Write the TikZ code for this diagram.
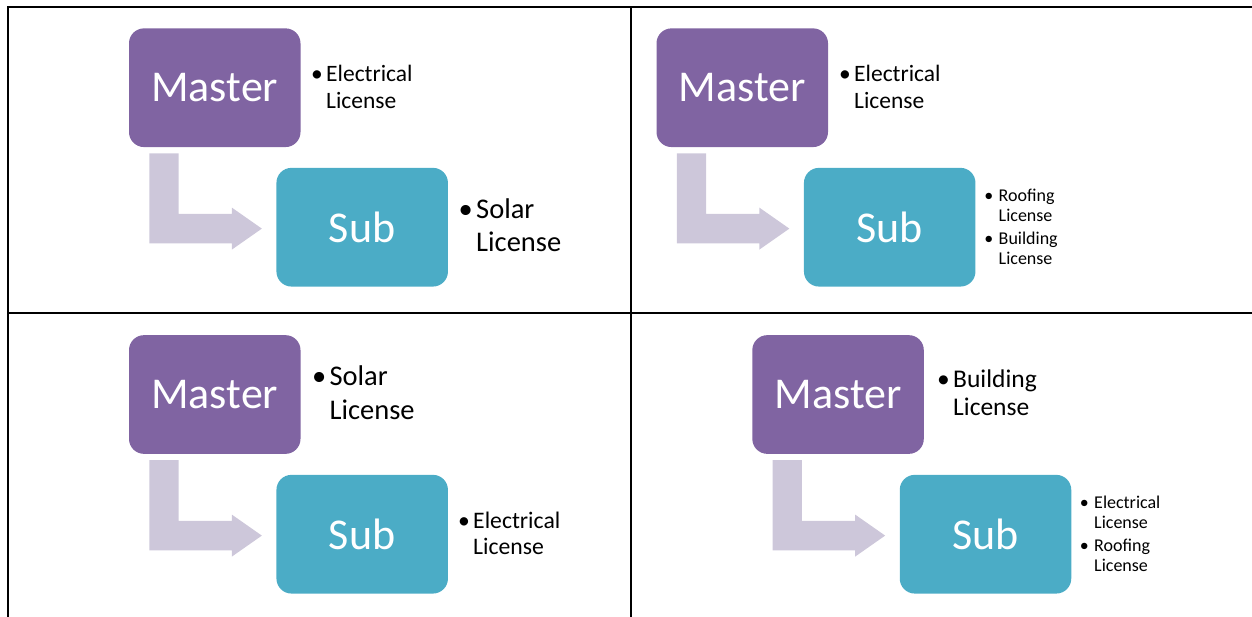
\documentclass[tikz,border=0pt]{standalone}
\usepackage{fontspec}
\setmainfont{Carlito}
\usetikzlibrary{calc}
\definecolor{mpurple}{HTML}{8064A2}
\definecolor{steal}{HTML}{4BACC6}
\definecolor{arrowc}{HTML}{CDC7DA}
\newcommand\fsz[1]{\fontsize{#1}{#1}\selectfont}
\begin{document}
\begin{tikzpicture}[x=1pt,y=-1pt,
  tbl/.style={line width=2pt,black},
  boxbase/.style={rectangle,rounded corners=15pt,minimum width=171.5pt,minimum height=118.7pt,inner sep=0pt,text=white,font=\fsz{44}},
  master/.style={boxbase,fill=mpurple},
  subbox/.style={boxbase,fill=steal},
  lt/.style={anchor=base west,inner sep=0pt,text=black},
  bul/.style={anchor=base east,inner sep=0pt,text=black},
  bentarrow/.style={fill=arrowc}]
\useasboundingbox (0,0) rectangle (1252,616);
% table grid
\coordinate (tl) at (8,7);
\coordinate (tr) at (1253,7);
\coordinate (bl) at (8,617);
\coordinate (mt) at (631,7);
\coordinate (mb) at (631,617);
\coordinate (ml) at (8,313);
\coordinate (mr) at (1253,313);
\draw[tbl] (7,7) -- (tr);
\draw[tbl] (tl) -- (bl);
\draw[tbl] (mt) -- (mb);
\draw[tbl] (ml) -- (mr);
% boxes
\node[master] (m1) at (214.75,87.7) {Master};
\node[subbox] (s1) at (362.2,227.2) {Sub};
\node[master] (m2) at (742.25,87.7) {Master};
\node[subbox] (s2) at (889.7,227.2) {Sub};
\node[master] (m3) at (214.75,394.5) {Master};
\node[subbox] (s3) at (362.2,534.2) {Sub};
\node[master] (m4) at (838.05,394.5) {Master};
\node[subbox] (s4) at (985.5,534.2) {Sub};
% bent arrows
\foreach \i in {1,2,3,4}{
  \fill[bentarrow] let \p1=(m\i.south west), \p2=(s\i.west) in
    (\x1+20.5pt,\y1-6pt) -- (\x1+49.8pt,\y1-6pt) -- (\x1+49.8pt,\y2+13.25pt)
    -- (\x2-44.4pt,\y2+13.25pt) -- (\x2-44.4pt,\y2+19.6pt) -- (\x2-14.4pt,\y2-1.4pt)
    -- (\x2-44.4pt,\y2-22.4pt) -- (\x2-44.4pt,\y2-16.05pt) -- (\x1+20.5pt,\y2-16.05pt) -- cycle;
}
% panel 1 texts
\node[lt,font=\fsz{23.5}] (t1a) at (326,81.7) {Electrical};
\node[lt,font=\fsz{23.5}] (t1b) at (326,108.3) {License};
\node[bul,font=\fsz{23.5}] (b1a) at (323,81.7) {•};
\node[lt,font=\fsz{28.5}] (u1a) at (476,218) {Solar};
\node[lt,font=\fsz{28.5}] (u1b) at (476,251.7) {License};
\node[bul,font=\fsz{28.5}] (c1a) at (473,218) {•};
% panel 2 texts
\node[lt,font=\fsz{23.5}] (t2a) at (854,81.7) {Electrical};
\node[lt,font=\fsz{23.5}] (t2b) at (854,108.3) {License};
\node[bul,font=\fsz{23.5}] (b2a) at (851,81.7) {•};
\node[lt,font=\fsz{18}] (u2a) at (998.5,201.2) {Roofing};
\node[lt,font=\fsz{18}] (u2b) at (998.5,221.5) {License};
\node[lt,font=\fsz{18}] (u2c) at (998.5,244.8) {Building};
\node[lt,font=\fsz{18}] (u2d) at (998.5,264.8) {License};
\node[bul,font=\fsz{18}] (c2a) at (993.5,201.2) {•};
\node[bul,font=\fsz{18}] (c2c) at (993.5,244.8) {•};
% panel 3 texts
\node[lt,font=\fsz{28.5}] (t3a) at (329.4,385.7) {Solar};
\node[lt,font=\fsz{28.5}] (t3b) at (329.4,419) {License};
\node[bul,font=\fsz{28.5}] (b3a) at (326.4,385.7) {•};
\node[lt,font=\fsz{23.7}] (u3a) at (473,528.3) {Electrical};
\node[lt,font=\fsz{23.7}] (u3b) at (473,554.3) {License};
\node[bul,font=\fsz{23.7}] (c3a) at (470,528.3) {•};
% panel 4 texts
\node[lt,font=\fsz{25.5}] (t4a) at (953,387.3) {Building};
\node[lt,font=\fsz{25.5}] (t4b) at (953,415) {License};
\node[bul,font=\fsz{25.5}] (b4a) at (950,387.3) {•};
\node[lt,font=\fsz{18}] (u4a) at (1094,508.2) {Electrical};
\node[lt,font=\fsz{18}] (u4b) at (1094,528.5) {License};
\node[lt,font=\fsz{18}] (u4c) at (1094,551.8) {Roofing};
\node[lt,font=\fsz{18}] (u4d) at (1094,571.8) {License};
\node[bul,font=\fsz{18}] (c4a) at (1089,508.2) {•};
\node[bul,font=\fsz{18}] (c4c) at (1089,551.8) {•};
\end{tikzpicture}
\end{document}
